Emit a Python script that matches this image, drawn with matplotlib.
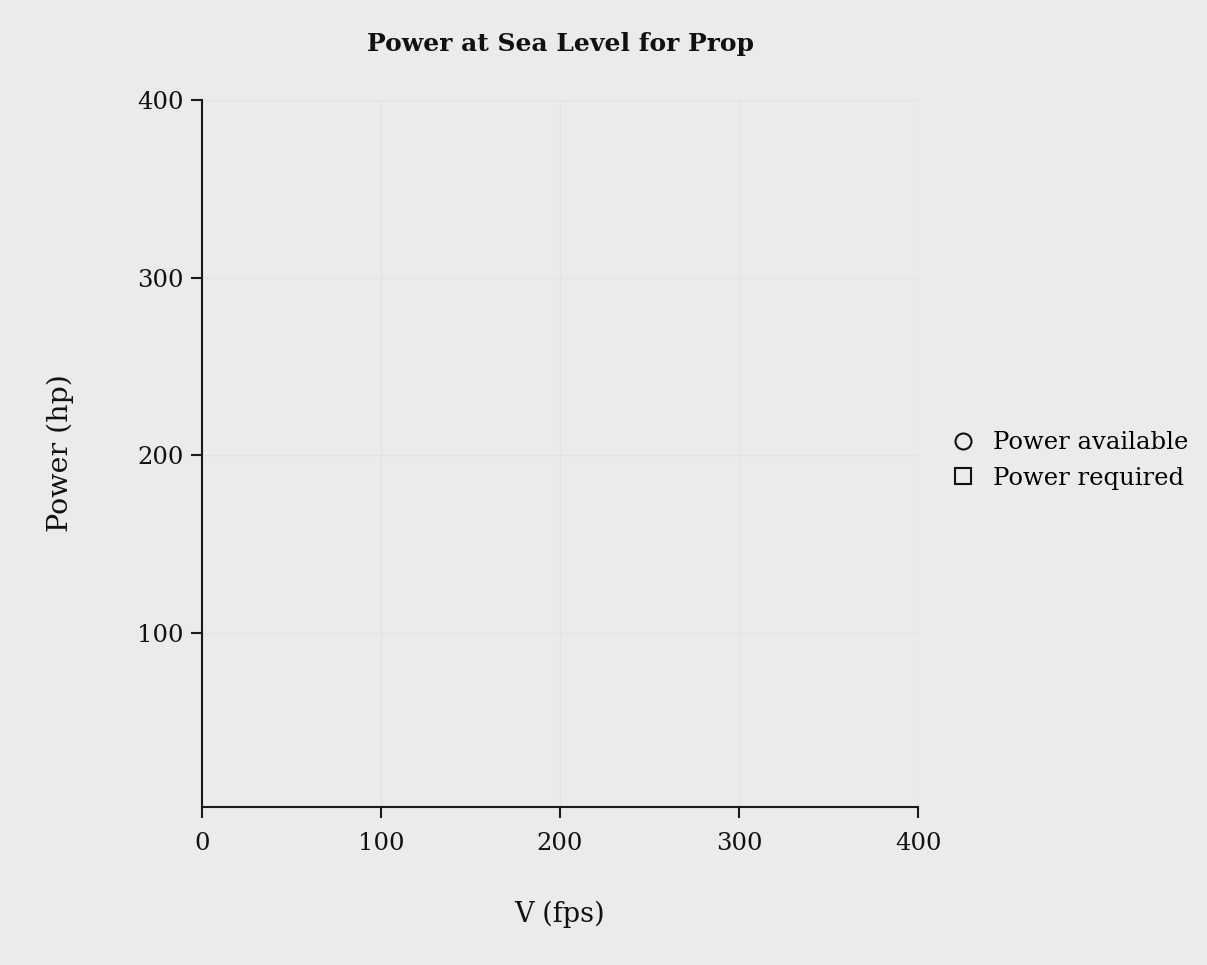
import matplotlib
matplotlib.use("Agg")
import matplotlib.pyplot as plt

# Data (the reference chart shows no plotted points)
v_available = []
p_available = []
v_required = []
p_required = []
x_ticks = [0, 100, 200, 300, 400]
y_ticks = [100, 200, 300, 400]
series_labels = ["Power available", "Power required"]

plt.rcParams['font.family'] = ['DejaVu Serif']
bg = '#ebebeb'

fig = plt.figure(figsize=(12.07, 9.65), dpi=100, facecolor=bg)
ax = fig.add_axes([0.1674, 0.1637, 0.7606 - 0.1674, 0.8964 - 0.1637])
ax.set_facecolor(bg)

ax.plot(v_available, p_available, linestyle='none', marker='o', markersize=11.5,
        markerfacecolor='none', markeredgecolor='#111111', markeredgewidth=1.5,
        label=series_labels[0])
ax.plot(v_required, p_required, linestyle='none', marker='s', markersize=11.5,
        markerfacecolor='none', markeredgecolor='#111111', markeredgewidth=1.5,
        label=series_labels[1])

ax.set_xlim(0, 400)
ax.set_ylim(2, 400)
ax.set_xticks(x_ticks)
ax.set_yticks(y_ticks)

for s in ['top', 'right']:
    ax.spines[s].set_visible(False)
for s in ['left', 'bottom']:
    ax.spines[s].set_color('#1a1a1a')
    ax.spines[s].set_linewidth(1.5)

ax.tick_params(axis='both', length=8, width=1.5, color='#1a1a1a',
               labelsize=17.5, labelcolor='#111111')
ax.tick_params(axis='x', pad=10)
ax.tick_params(axis='y', pad=5)
ax.grid(True, color='#e3e3e3', linewidth=1)
ax.set_axisbelow(True)

ax.set_xlabel('V (fps)', fontsize=19.5, labelpad=33, color='#111111')
ax.set_ylabel('Power (hp)', fontsize=20.5, labelpad=46, color='#111111')
ax.set_title('Power at Sea Level for Prop', fontsize=18, fontweight='bold',
             pad=35, color='#111111')

leg = ax.legend(loc='center left', bbox_to_anchor=(1.015, 0.49), frameon=False,
                fontsize=17.5, handletextpad=0.75, labelspacing=0.5,
                handlelength=1.0)

fig.savefig('out.png', dpi=100, facecolor=bg)
